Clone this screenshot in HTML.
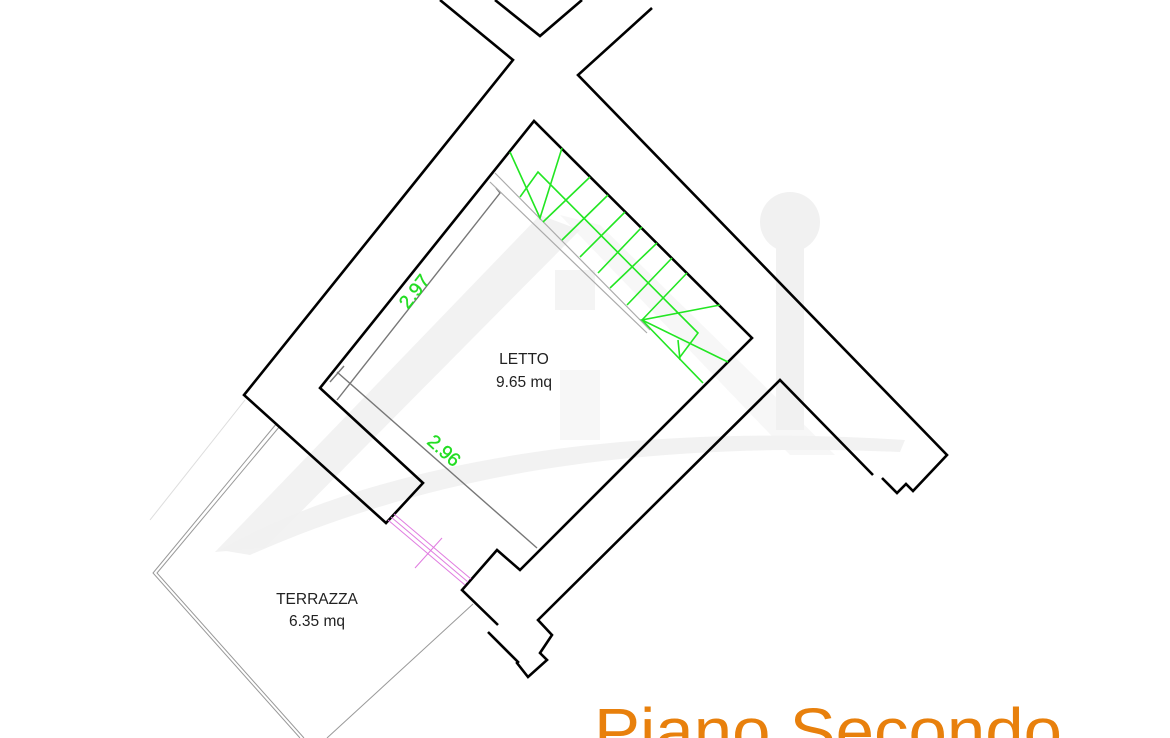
<!DOCTYPE html>
<html><head><meta charset="utf-8"><style>
html,body{margin:0;padding:0;background:#fff;}
svg{display:block;}
</style></head><body>
<svg width="1170" height="738" viewBox="0 0 1170 738" xmlns="http://www.w3.org/2000/svg">
<rect width="1170" height="738" fill="#fff"/>
<!-- watermark -->
<g fill="#f1f1f1" stroke="none">
  <path d="M215,552 L540,215 L580,230 L265,548 Z" opacity="0.9"/>
  <path d="M560,215 L600,225 L835,455 L790,455 Z" opacity="0.6"/>
  <circle cx="790" cy="222" r="30"/>
  <rect x="776" y="240" width="28" height="190"/>
  <path d="M220,550 C360,470 600,420 905,440 L900,452 C620,440 420,480 250,555 Z" opacity="0.9"/>
  <rect x="555" y="270" width="40" height="40" opacity="0.8"/>
  <rect x="560" y="370" width="40" height="70" opacity="0.6"/>
</g>
<!-- terrazza thin lines -->
<g fill="none" stroke="#999" stroke-width="1">
  <polyline points="277,423 153,573 300,738"/>
  <polyline points="280,426 157,573 304,738"/>
  <line x1="473" y1="604" x2="327" y2="738"/>
  <line x1="245" y1="400" x2="150" y2="520" stroke="#ddd"/>
</g>
<!-- walls -->
<g fill="none" stroke="#000" stroke-width="2.6" stroke-linejoin="miter">
  <polyline points="440,0 513,60 244,395 386,523 423,483 320,388 534,121 752,338 520,570 497,550 462,590 498,625"/>
  <polyline points="495,0 540,36 582,0"/>
  <polyline points="652,8 578,75 947,455 913,491 906,484 897,493 882,478"/>
  <polyline points="873,475 780,380 538,620 552,635 540,653 547,660 528,677 517,663 518,662 488,632"/>
</g>
<!-- door pink -->
<g stroke="#e07be0" stroke-width="1" fill="none">
  <line x1="388" y1="520" x2="465" y2="585"/>
  <line x1="391" y1="517" x2="468" y2="582"/>
  <line x1="394" y1="514" x2="471" y2="579"/>
  <line x1="442" y1="538" x2="415" y2="568"/>
</g>
<!-- dimension lines gray -->
<g stroke="#777" stroke-width="1.4" fill="none">
  <polyline points="337,400 500,193 496,188"/>
  <line x1="337" y1="372" x2="537" y2="548"/>
  <line x1="330" y1="382" x2="344" y2="366"/>
</g>
<g stroke="#aaa" stroke-width="1.2" fill="none">
  <line x1="490" y1="182" x2="647" y2="333"/>
  <line x1="495" y1="173" x2="650" y2="330"/>
</g>
<!-- stairs green -->
<g stroke="#22e622" stroke-width="1.6" fill="none">
  <polyline points="510,152 540,218 562,148"/>
  <polyline points="520,197 538,172 698,333 680,357"/>
  <line x1="678" y1="340" x2="680" y2="360"/>
  <line x1="590" y1="177" x2="543" y2="222"/>
  <line x1="608" y1="195" x2="562" y2="240"/>
  <line x1="625" y1="212" x2="580" y2="257"/>
  <line x1="642" y1="227" x2="598" y2="273"/>
  <line x1="657" y1="243" x2="610" y2="288"/>
  <line x1="672" y1="258" x2="627" y2="305"/>
  <line x1="687" y1="273" x2="642" y2="320"/>
  <polyline points="720,305 642,320 728,362"/>
  <line x1="642" y1="320" x2="703" y2="383"/>
</g>
<g font-family="Liberation Sans, sans-serif" fill="#22dd22" font-size="19" stroke="#22dd22" stroke-width="0.4">
  <text transform="translate(408,310) rotate(-52)">2.97</text>
  <text transform="translate(426,443) rotate(42)">2.96</text>
</g>
<g font-family="Liberation Sans, sans-serif" fill="#222" font-size="15.5" text-anchor="middle">
  <text x="524" y="364">LETTO</text>
  <text x="524" y="387">9.65 mq</text>
  <text x="317" y="604">TERRAZZA</text>
  <text x="317" y="626">6.35 mq</text>
</g>
<text x="594" y="753" font-family="Liberation Sans, sans-serif" font-size="64" fill="#e8800c" textLength="468" lengthAdjust="spacingAndGlyphs">Piano Secondo</text>
</svg>
</body></html>
